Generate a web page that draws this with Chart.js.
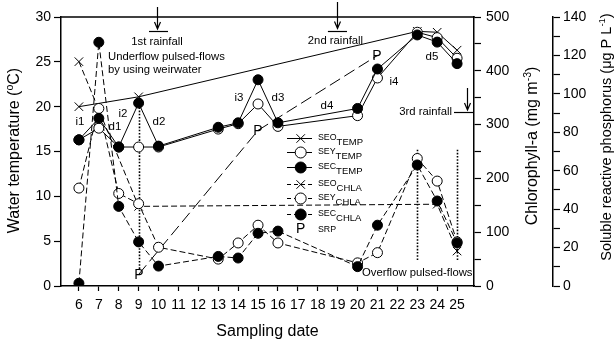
<!DOCTYPE html>
<html><head><meta charset="utf-8">
<style>html,body{margin:0;padding:0;background:#fff}#wrap{width:616px;height:340px}</style>
<script src="https://cdn.jsdelivr.net/npm/chart.js@4.4.1/dist/chart.umd.min.js"></script>
</head><body><div id="wrap"><canvas id="c" width="616" height="340"></canvas></div>
<script>
// ---- tick lists ----
const dateTicks = [6,7,8,9,10,11,12,13,14,15,16,17,18,19,20,21,22,23,24,25];
const tempTicks = [0,5,10,15,20,25,30];
const chlTicks = [0,50,100,150,200,250,300,350,400,450,500];
const srpTicks = [0,10,20,30,40,50,60,70,80,90,100,110,120,130,140];

// ---- series ----
const seoTempDates = [6, 9, 23, 24, 25];
const seoTemp = [20.0, 21.1, 28.4, 28.3, 26.3];
const sampleDates = [6, 7, 8, 9, 10, 13, 14, 15, 16, 20, 21, 23, 24, 25];
const seyTemp = [16.3, 17.6, 15.5, 15.5, 15.5, 17.5, 18.1, 20.3, 17.8, 19.0, 23.2, 28.3, 27.7, 25.4];
const secTemp = [16.3, 18.7, 15.5, 20.4, 15.6, 17.7, 18.2, 23.0, 18.2, 19.8, 24.2, 28.0, 27.2, 24.8];
const seoChlaDates = [6, 9, 24, 25];
const seoChla = [417, 148, 152, 65];
const seyChla = [182, 330, 172, 153, 72, 50, 80, 113, 80, 43, 62, 237, 195, 82];
const secChla = [5, 453, 148, 82, 37, 55, 52, 98, 102, 36, 113, 225, 158, 80];
const srpDates = [9, 15, 21];
const srpValues = [6, 81, 120];

const FAM = '"Liberation Sans", Arial, Helvetica, sans-serif';
Chart.defaults.font.family = FAM;
Chart.defaults.color = '#000';

const pts = (xs, ys) => xs.map((x, i) => ({x: x, y: ys[i]}));

const CHLA_DASH = [6, 3];
const SRP_DASH = [12, 5];

function ds(label, data, axis, style, dash, order) {
  const base = {
    label: label, data: data, yAxisID: axis, order: order,
    borderColor: '#000', borderWidth: 1, borderDash: dash || [],
    tension: 0, fill: false, spanGaps: true,
    pointBorderColor: '#000', pointBorderWidth: 1,
    pointHoverRadius: 0
  };
  if (style === 'x') { base.pointStyle = 'crossRot'; base.pointRadius = 6; base.pointBackgroundColor = '#000'; }
  else if (style === 'open') { base.pointStyle = 'circle'; base.pointRadius = 5; base.pointBackgroundColor = '#fff'; }
  else if (style === 'filled') { base.pointStyle = 'circle'; base.pointRadius = 5; base.pointBackgroundColor = '#000'; }
  else if (style === 'P') { base.pointStyle = false; base.pointRadius = 0; base.isP = true; }
  return base;
}

const datasets = [
  ds('SEC TEMP', pts(sampleDates, secTemp), 'y', 'filled', null, 1),
  ds('SEC CHLA', pts(sampleDates, secChla), 'yChl', 'filled', CHLA_DASH, 2),
  ds('SEY TEMP', pts(sampleDates, seyTemp), 'y', 'open', null, 3),
  ds('SEY CHLA', pts(sampleDates, seyChla), 'yChl', 'open', CHLA_DASH, 4),
  ds('SEO TEMP', pts(seoTempDates, seoTemp), 'y', 'x', null, 5),
  ds('SEO CHLA', pts(seoChlaDates, seoChla), 'yChl', 'x', CHLA_DASH, 6),
  ds('SRP', pts(srpDates, srpValues), 'ySrp', 'P', SRP_DASH, 7)
];

function richWidth(ctx, parts) {
  let w = 0;
  for (const p of parts) { ctx.font = p.size + 'px ' + FAM; w += ctx.measureText(p.t).width; }
  return w;
}
function drawRich(ctx, parts, x, y, rot, align) {
  ctx.save();
  ctx.translate(x, y);
  if (rot) ctx.rotate(rot);
  ctx.textBaseline = 'alphabetic';
  ctx.textAlign = 'left';
  const w = richWidth(ctx, parts);
  let cx = align === 'left' ? 0 : -w / 2;
  for (const p of parts) {
    ctx.font = p.size + 'px ' + FAM;
    ctx.fillText(p.t, cx, p.dy || 0);
    cx += ctx.measureText(p.t).width;
  }
  ctx.restore();
}

const annot = {
  id: 'annot',
  beforeDatasetsDraw(chart) {
    const ctx = chart.ctx, xs = chart.scales.x, ys = chart.scales.y;
    const X = v => xs.getPixelForValue(v), Y = v => ys.getPixelForValue(v);
    ctx.save();
    ctx.strokeStyle = '#000';
    ctx.lineWidth = 1.6;
    ctx.setLineDash([1.6, 1.6]);
    const vlines = [[9, 1.9, 21.0], [23, 2.9, 15.2], [25, 2.9, 15.2]];
    for (const v of vlines) {
      ctx.beginPath();
      ctx.moveTo(Math.round(X(v[0])) + 0.5, Y(v[1]));
      ctx.lineTo(Math.round(X(v[0])) + 0.5, Y(v[2]));
      ctx.stroke();
    }
    ctx.restore();
  },
  afterDatasetsDraw(chart) {
    const ctx = chart.ctx;
    ctx.save();
    ctx.fillStyle = '#000';
    ctx.font = '14px ' + FAM;
    ctx.textAlign = 'center';
    ctx.textBaseline = 'alphabetic';
    chart.data.datasets.forEach((d, i) => {
      if (!d.isP) return;
      const meta = chart.getDatasetMeta(i);
      for (const el of meta.data) ctx.fillText('P', Math.round(el.x), Math.round(el.y) + 5);
    });
    ctx.restore();
  },
  afterDraw(chart) {
    const ctx = chart.ctx, xs = chart.scales.x, ys = chart.scales.y;
    const X = v => xs.getPixelForValue(v), Y = v => ys.getPixelForValue(v);
    const ca = chart.chartArea;
    ctx.save();
    // top frame
    ctx.strokeStyle = '#000';
    ctx.lineWidth = 1.5;
    ctx.beginPath();
    ctx.moveTo(ca.left - 0.75, ca.top);
    ctx.lineTo(ca.right + 0.75, ca.top);
    ctx.stroke();

    // arrows
    ctx.lineWidth = 1.2;
    function arrow(d, t0, t1) {
      const x = Math.round(X(d)) + 0.5, y0 = Y(t0), y1 = Y(t1);
      ctx.beginPath();
      ctx.moveTo(x, y0); ctx.lineTo(x, y1);
      ctx.moveTo(x - 3, y1 - 7); ctx.lineTo(x, y1); ctx.lineTo(x + 3, y1 - 7);
      ctx.stroke();
    }
    function hbar(d0, d1, t) {
      const y = Math.round(Y(t)) + 0.5;
      ctx.beginPath(); ctx.moveTo(X(d0), y); ctx.lineTo(X(d1), y); ctx.stroke();
    }
    arrow(9.923, 31.11, 28.66); hbar(9.52, 10.476, 28.44);
    arrow(18.967, 31.67, 28.72); hbar(18.51, 19.47, 28.44);
    arrow(25.498, 22.08, 19.63); hbar(24.845, 25.85, 19.41);

    // annotation texts
    ctx.fillStyle = '#000';
    ctx.textBaseline = 'middle';
    ctx.font = '11.3px ' + FAM;
    ctx.textAlign = 'center';
    ctx.fillText('1st rainfall', X(9.923), Y(27.21));
    ctx.fillText('2nd rainfall', X(18.89), Y(27.32));
    ctx.textAlign = 'right';
    ctx.fillText('3rd rainfall', X(24.745), Y(19.40));
    ctx.textAlign = 'left';
    ctx.fillText('Underflow pulsed-flows', X(7.461), Y(25.54));
    ctx.fillText('by using weirwater', X(7.461), Y(24.14));
    ctx.fillText('Overflow pulsed-flows', X(20.223), Y(1.45));

    ctx.textAlign = 'center';
    ctx.font = '11.5px ' + FAM;
    const labs = [['i1', 6.055, 18.29], ['d1', 7.813, 17.73], ['i2', 8.215, 19.18], ['d2', 10.024, 18.29],
      ['i3', 14.043, 20.97], ['d3', 16.002, 20.97], ['d4', 18.464, 20.07], ['i4', 21.831, 22.75], ['d5', 23.74, 25.54]];
    for (const l of labs) ctx.fillText(l[0], X(l[1]), Y(l[2]));

    // legend
    const lx = ca.left + 239.7, l0 = ca.left + 226, l1 = ca.left + 251, tx = ca.left + 257;
    const rows = [
      ['SEO', 'TEMP', 'x', false, 121],
      ['SEY', 'TEMP', 'open', false, 135],
      ['SEC', 'TEMP', 'filled', false, 150],
      ['SEO', 'CHLA', 'x', true, 167],
      ['SEY', 'CHLA', 'open', true, 181],
      ['SEC', 'CHLA', 'filled', true, 197]
    ];
    for (const r of rows) {
      const y = ca.top + r[4];
      ctx.save();
      ctx.strokeStyle = '#000'; ctx.lineWidth = 1;
      ctx.setLineDash(r[3] ? [4, 3] : []);
      ctx.beginPath(); ctx.moveTo(l0, y + 0.5); ctx.lineTo(l1, y + 0.5); ctx.stroke();
      ctx.setLineDash([]);
      ctx.fillStyle = r[2] === 'open' ? '#fff' : '#000';
      Chart.helpers.drawPoint(ctx, {pointStyle: r[2] === 'x' ? 'crossRot' : 'circle', radius: r[2] === 'x' ? 6 : 5.5, rotation: 0, borderWidth: 1}, lx, y + 0.5);
      ctx.restore();
      ctx.fillStyle = '#000';
      drawRich(ctx, [{t: r[0], size: 8.8, dy: 2}, {t: r[1], size: 9.5, dy: 6.8}], tx, y, 0, 'left');
    }
    const py = ca.top + 211;
    ctx.font = '14px ' + FAM;
    ctx.textAlign = 'center'; ctx.textBaseline = 'alphabetic';
    ctx.fillText('P', lx, py + 5);
    drawRich(ctx, [{t: 'SRP', size: 8.8, dy: 3.7}], tx, py, 0, 'left');

    // axis titles
    drawRich(ctx, [{t: 'Water temperature (', size: 16}, {t: 'o', size: 10.5, dy: -6.5}, {t: 'C)', size: 16}], 19, 150.5, -Math.PI / 2);
    drawRich(ctx, [{t: 'Chlorophyll-a (mg m', size: 16}, {t: '-3', size: 10.5, dy: -6.5}, {t: ')', size: 16}], 537, 146, -Math.PI / 2);
    drawRich(ctx, [{t: 'Soluble reactive phosphorus (\u03bcg P L', size: 14.5}, {t: '-1', size: 9.5, dy: -6}, {t: ')', size: 14.5}], 611, 137, -Math.PI / 2);
    drawRich(ctx, [{t: 'Sampling date', size: 16}], (ca.left + ca.right) / 2, 335.5, 0);
    ctx.restore();
  }
};

const tickFont = {size: 14, family: FAM};
const grid = (len) => ({drawOnChartArea: false, drawTicks: true, tickLength: len, color: '#000', tickWidth: 1.2});
const border = {display: true, color: '#000', width: 1.5};

new Chart(document.getElementById('c'), {
  type: 'line',
  data: {datasets: datasets},
  options: {
    responsive: false,
    animation: false,
    devicePixelRatio: 1,
    layout: {padding: {top: 17, left: 0, right: 0, bottom: 0}},
    plugins: {legend: {display: false}, tooltip: {enabled: false}},
    events: [],
    scales: {
      x: {
        type: 'linear', position: 'bottom', min: 5.1, max: 25.85,
        afterBuildTicks: s => { s.ticks = dateTicks.map(v => ({value: v})); },
        afterFit: s => { s.height = 54; },
        ticks: {font: tickFont, padding: 6, maxRotation: 0, autoSkip: false, color: '#000'},
        grid: grid(5), border: border
      },
      y: {
        type: 'linear', position: 'left', min: 0, max: 30,
        afterBuildTicks: s => { s.ticks = tempTicks.map(v => ({value: v})); },
        afterFit: s => { s.width = 61; },
        ticks: {font: tickFont, padding: 3, autoSkip: false, color: '#000'},
        grid: grid(7), border: border
      },
      yChl: {
        type: 'linear', position: 'right', min: 0, max: 500, weight: 0,
        afterBuildTicks: s => { s.ticks = chlTicks.map(v => ({value: v})); },
        afterFit: s => { s.width = 79; },
        ticks: {font: tickFont, padding: 5, autoSkip: false, color: '#000', callback: v => (v % 100 === 0 ? String(v) : '')},
        grid: grid(7), border: border
      },
      ySrp: {
        type: 'linear', position: 'right', min: 0, max: 140, weight: 1,
        afterBuildTicks: s => { s.ticks = srpTicks.map(v => ({value: v})); },
        afterFit: s => { s.width = 63; },
        ticks: {font: tickFont, padding: 3, autoSkip: false, color: '#000', callback: v => (v % 20 === 0 ? String(v) : '')},
        grid: grid(7), border: border
      }
    }
  },
  plugins: [annot]
});
</script></body></html>
